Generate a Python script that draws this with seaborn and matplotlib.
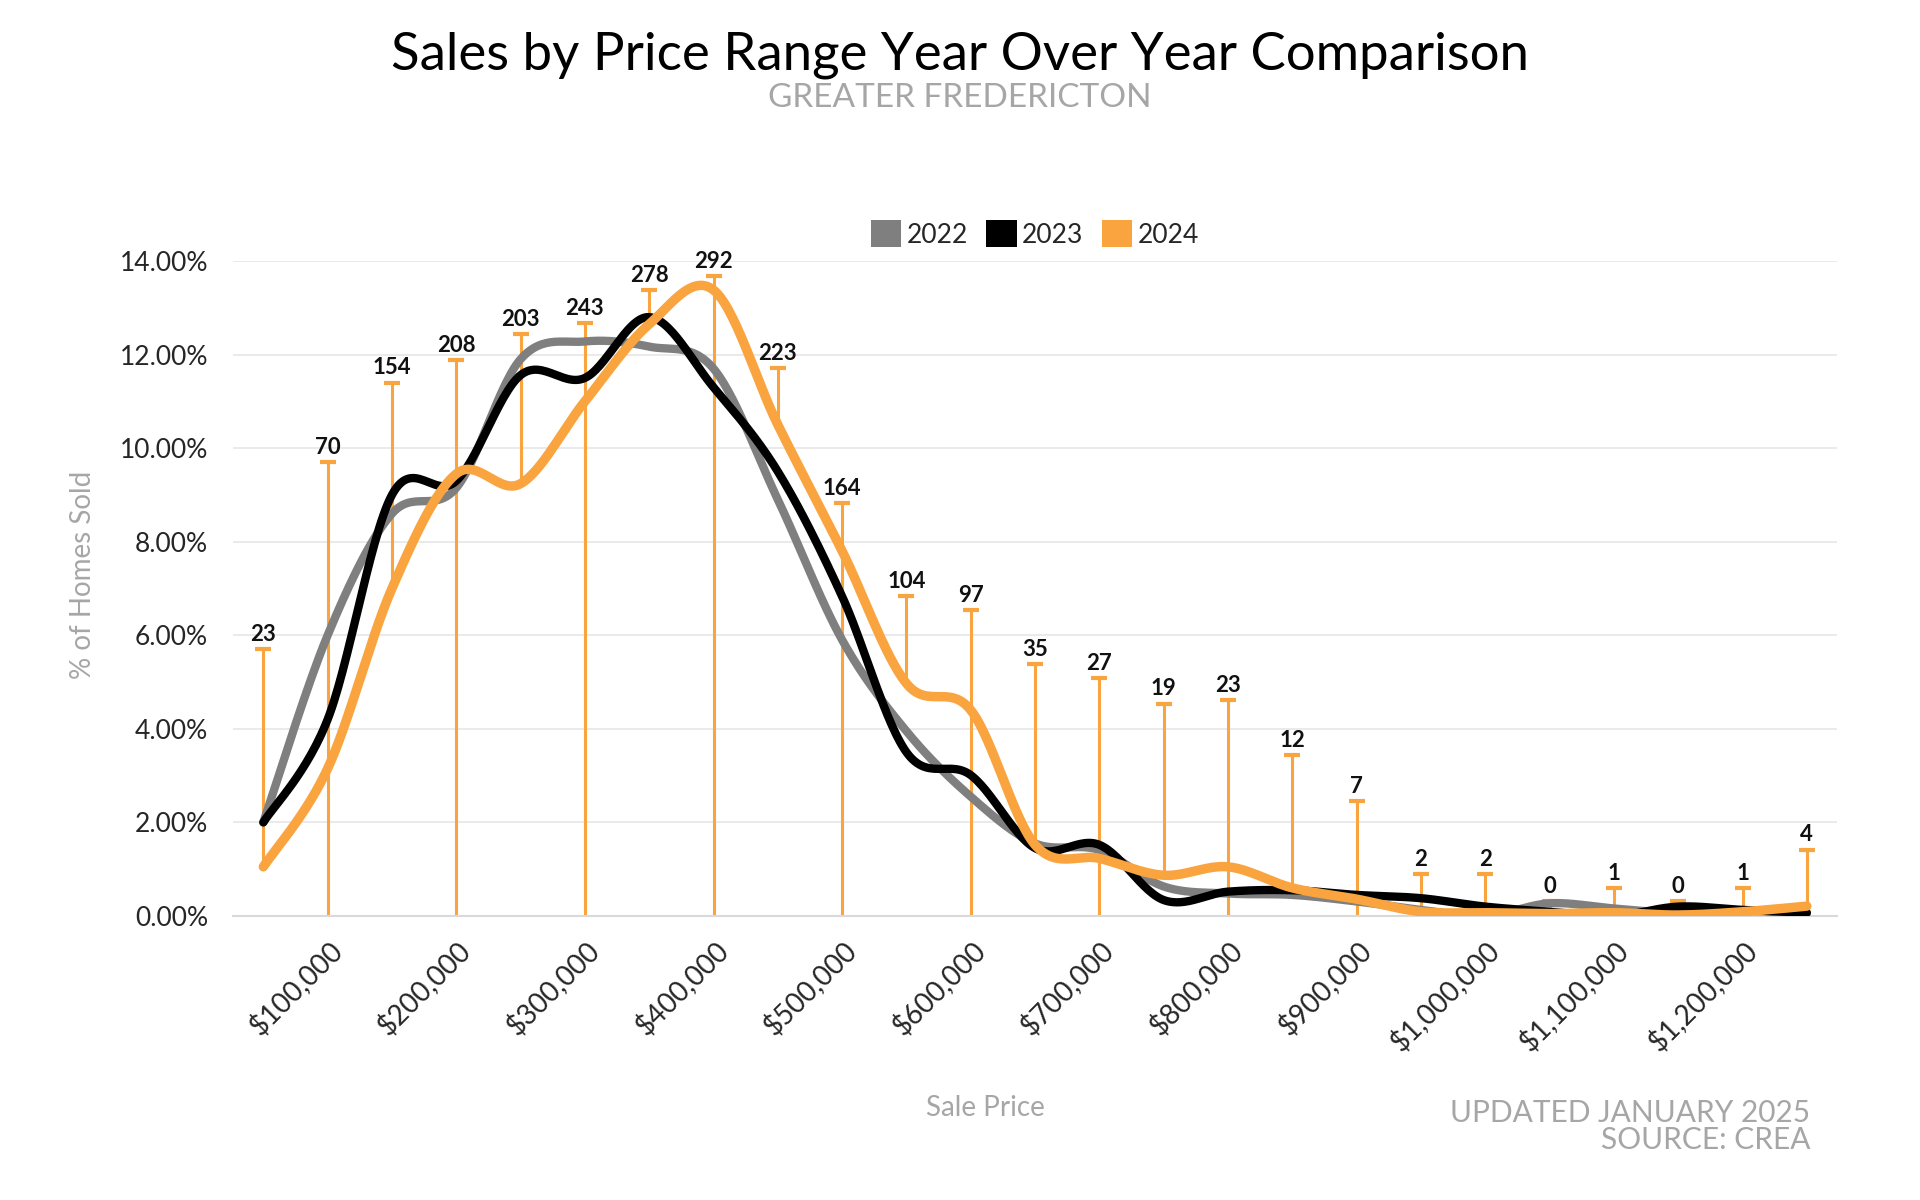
import numpy as np
import pandas as pd
import matplotlib
matplotlib.use("Agg")
import matplotlib.pyplot as plt
from matplotlib.patches import Patch
import seaborn as sns

# Data
price_bins = ["$50,000", "$100,000", "$150,000", "$200,000", "$250,000", "$300,000",
              "$350,000", "$400,000", "$450,000", "$500,000", "$550,000", "$600,000",
              "$650,000", "$700,000", "$750,000", "$800,000", "$850,000", "$900,000",
              "$950,000", "$1,000,000", "$1,050,000", "$1,100,000", "$1,150,000",
              "$1,200,000", "$1,250,000"]
years = ["2022", "2023", "2024"]

pct_2022 = [2.0, 6.0, 8.6, 9.15, 11.9, 12.28, 12.17, 11.7, 8.9, 5.9, 3.95, 2.55, 1.55,
            1.41, 0.63, 0.48, 0.45, 0.31, 0.13, 0.0, 0.27, 0.16, 0.06, 0.11, 0.05]
pct_2023 = [2.0, 4.2, 9.0, 9.3, 11.56, 11.5, 12.8, 11.3, 9.5, 6.83, 3.5, 3.01, 1.45,
            1.52, 0.34, 0.52, 0.55, 0.45, 0.38, 0.2, 0.09, 0.0, 0.2, 0.13, 0.07]
pct_2024 = [1.05, 3.15, 7.0, 9.45, 9.24, 11.0, 12.65, 13.38, 10.5, 7.8, 4.97, 4.4, 1.52,
            1.23, 0.87, 1.05, 0.6, 0.36, 0.09, 0.07, 0.05, 0.07, 0.02, 0.09, 0.21]

# 2024 unit sales shown as labels, and the top of each orange marker line
sales_2024 = [23, 70, 154, 208, 203, 243, 278, 292, 223, 164, 104, 97, 35, 27, 19, 23,
              12, 7, 2, 2, 0, 1, 0, 1, 4]
marker_top = [5.71, 9.70, 11.40, 11.88, 12.43, 12.68, 13.37, 13.67, 11.71, 8.83, 6.84,
              6.53, 5.38, 5.09, 4.54, 4.61, 3.43, 2.46, 0.90, 0.90, 0.31, 0.60, 0.31,
              0.60, 1.42]

colors = {"2022": "#7f7f7f", "2023": "#000000", "2024": "#f9a43f"}
widths = {"2022": 6.0, "2023": 6.0, "2024": 6.8}
grey_text = "#a6a6a6"


def smooth(y, n=30):
    # Bezier smoothing through every point, like a spreadsheet "smoothed line"
    p = np.column_stack([np.arange(len(y)), y]).astype(float)
    out = []
    t = np.linspace(0, 1, n, endpoint=False)[:, None]
    for i in range(len(p) - 1):
        p0 = p[max(i - 1, 0)]
        p1 = p[i]
        p2 = p[i + 1]
        p3 = p[min(i + 2, len(p) - 1)]
        c1 = p1 + (p2 - p0) / 6
        c2 = p2 - (p3 - p1) / 6
        out.append((1 - t) ** 3 * p1 + 3 * (1 - t) ** 2 * t * c1 + 3 * (1 - t) * t ** 2 * c2 + t ** 3 * p2)
    out.append(p[-1:])
    return np.vstack(out)


series = {"2022": pct_2022, "2023": pct_2023, "2024": pct_2024}
frames = []
for yr in years:
    pts = smooth(series[yr])
    frames.append(pd.DataFrame({"x": pts[:, 0], "pct": pts[:, 1], "year": yr}))
curves = pd.concat(frames, ignore_index=True)

sns.set_style("white")
plt.rcParams["font.family"] = ["Lato", "DejaVu Sans"]

fig = plt.figure(figsize=(19.2, 12), dpi=100)
ax = fig.add_axes([0.1214, 0.2367, 0.8354, 0.5458])

# orange marker lines with caps and count labels
x_idx = np.arange(len(price_bins))
bottoms = [0 if i % 2 == 1 else pct_2024[i] for i in x_idx]
ax.vlines(x_idx, bottoms, marker_top, color=colors["2024"], linewidth=2.2, zorder=2)
ax.plot(x_idx, marker_top, linestyle="none", marker="_", markersize=11,
        markeredgewidth=3, color=colors["2024"], zorder=2)
for i, n in enumerate(sales_2024):
    ax.annotate(str(n), (i, marker_top[i]), xytext=(0, 3), textcoords="offset points",
                ha="center", va="bottom", fontsize=16, fontweight="bold", color="#111111")

# smoothed year lines
for k, yr in enumerate(years):
    sns.lineplot(data=curves[curves["year"] == yr], x="x", y="pct", ax=ax,
                 color=colors[yr], linewidth=widths[yr], sort=False, estimator=None,
                 zorder=3 + k, solid_capstyle="round", solid_joinstyle="round")

ax.set_xlim(-0.47, len(price_bins) - 0.53)
ax.set_ylim(0, 14)
ax.set_yticks(np.arange(0, 15, 2))
ax.set_yticklabels([f"{v:.2f}%" for v in np.arange(0, 15, 2)], fontsize=19)
ax.yaxis.grid(True, color="#e6e6e6", linewidth=1.2)
ax.set_axisbelow(True)

ax.set_xticks(x_idx[1::2])
ax.set_xticklabels(price_bins[1::2], rotation=45, ha="right", va="top",
                   rotation_mode="anchor", fontsize=20)
ax.tick_params(axis="x", length=0, pad=14)
ax.tick_params(axis="y", length=0, pad=18)

for s in ["top", "right", "left"]:
    ax.spines[s].set_visible(False)
ax.spines["bottom"].set_color("#d9d9d9")
ax.spines["bottom"].set_linewidth(1.5)
ax.set_xlabel("")
ax.set_ylabel("")

handles = [Patch(facecolor=colors[yr], edgecolor="none") for yr in years]
fig.legend(handles, years, loc="center", bbox_to_anchor=(0.539, 0.805), ncol=3,
           frameon=False, fontsize=19, handlelength=1.15, handleheight=1.15,
           handletextpad=0.2, columnspacing=0.7)

fig.text(0.5, 0.954, "Sales by Price Range Year Over Year Comparison",
         ha="center", va="center", fontsize=38, color="#000000")
fig.text(0.5, 0.918, "GREATER FREDERICTON", ha="center", va="center",
         fontsize=24, color=grey_text)
fig.text(0.043, 0.521, "% of Homes Sold", rotation=90, ha="center", va="center",
         fontsize=20, color=grey_text)
fig.text(0.5135, 0.077, "Sale Price", ha="center", va="center", fontsize=20,
         color=grey_text)
fig.text(0.943, 0.061, "UPDATED JANUARY 2025\nSOURCE: CREA", ha="right", va="center",
         fontsize=21.5, color=grey_text, linespacing=0.95)

fig.savefig("out.png", dpi=100)
